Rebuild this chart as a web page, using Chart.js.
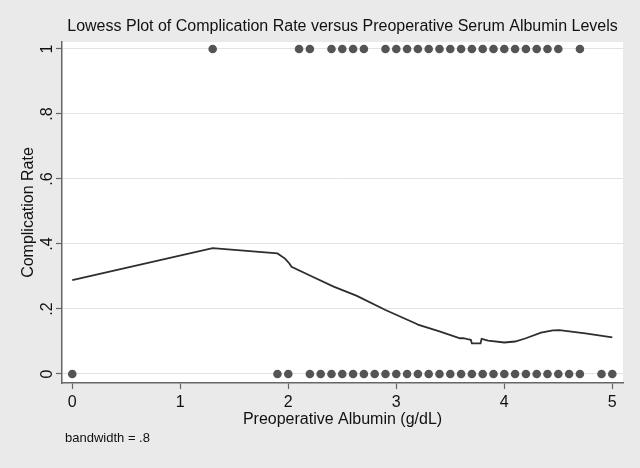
<!DOCTYPE html>
<html>
<head>
<meta charset="utf-8">
<script src="https://cdn.jsdelivr.net/npm/chart.js@4.4.0/dist/chart.umd.min.js"></script>
<style>
  html, body { margin: 0; padding: 0; background: #eaeaea; }
</style>
</head>
<body>
<canvas id="lowess-chart" width="640" height="468"></canvas>
<script>
// albumin values (g/dL) of patients with a complication (rate = 1)
var albuminWithComplication = [1.3, 2.1, 2.2, 2.4, 2.5, 2.6, 2.7, 2.9, 3.0, 3.1, 3.2, 3.3, 3.4, 3.5,
  3.6, 3.7, 3.8, 3.9, 4.0, 4.1, 4.2, 4.3, 4.4, 4.5, 4.7];
// albumin values of patients without a complication (rate = 0)
var albuminNoComplication = [0, 1.9, 2.0, 2.2, 2.3, 2.4, 2.5, 2.6, 2.7, 2.8, 2.9, 3.0, 3.1, 3.2, 3.3,
  3.4, 3.5, 3.6, 3.7, 3.8, 3.9, 4.0, 4.1, 4.2, 4.3, 4.4, 4.5, 4.6, 4.7, 4.9, 5.0];

// lowess smoother (bandwidth .8)
var lowessX = [0, 1.30, 1.90, 1.97, 2.01, 2.03, 2.20, 2.42, 2.63, 2.90, 3.19, 3.20, 3.40, 3.59,
  3.62, 3.66, 3.69, 3.70, 3.78, 3.79, 3.85, 4.00, 4.10, 4.20, 4.34, 4.45, 4.51, 4.75, 5.00];
var lowessY = [0.289, 0.387, 0.371, 0.355, 0.340, 0.330, 0.303, 0.269, 0.241, 0.197, 0.154, 0.152,
  0.131, 0.110, 0.110, 0.107, 0.105, 0.094, 0.094, 0.108, 0.103, 0.097, 0.100, 0.110, 0.127,
  0.134, 0.135, 0.125, 0.113];

var xTicks = [0, 1, 2, 3, 4, 5];
var yTicks = [0, 0.2, 0.4, 0.6, 0.8, 1];
var yTickLabels = ['0', '.2', '.4', '.6', '.8', '1'];

var fontFam = "'Liberation Sans', Arial, sans-serif";

// grey page, white plot region, title + note
var stataLook = {
  id: 'stataLook',
  beforeDraw: function (chart) {
    var c = chart.ctx, a = chart.chartArea;
    c.save();
    c.fillStyle = '#eaeaea';
    c.fillRect(0, 0, chart.width, chart.height);
    c.fillStyle = '#ffffff';
    c.fillRect(a.left, a.top, a.right - a.left, a.bottom - a.top);
    c.restore();
  },
  afterDraw: function (chart) {
    var c = chart.ctx, a = chart.chartArea;
    c.save();
    c.fillStyle = '#111';
    c.font = '16px ' + fontFam;
    c.textAlign = 'center';
    c.textBaseline = 'middle';
    c.fillText('Lowess Plot of Complication Rate versus Preoperative Serum Albumin Levels', (a.left + a.right) / 2, 27);
    c.font = '13px ' + fontFam;
    c.textAlign = 'left';
    c.fillText('bandwidth = .8', 65, 438);
    c.restore();
  }
};

var ctx = document.getElementById('lowess-chart').getContext('2d');
var myChart = new Chart(ctx, {
  type: 'scatter',
  data: {
    datasets: [{
      label: 'Complication',
      data: albuminWithComplication.map(function (v) { return { x: v, y: 1 }; }),
      backgroundColor: '#545454',
      borderWidth: 0,
      pointRadius: 4.3
    }, {
      label: 'No complication',
      data: albuminNoComplication.map(function (v) { return { x: v, y: 0 }; }),
      backgroundColor: '#545454',
      borderWidth: 0,
      pointRadius: 4.3
    }, {
      label: 'Lowess',
      data: lowessX.map(function (v, i) { return { x: v, y: lowessY[i] }; }),
      showLine: true,
      borderColor: '#2e2e2e',
      borderWidth: 1.8,
      pointRadius: 0,
      tension: 0
    }]
  },
  options: {
    responsive: false,
    animation: false,
    layout: { padding: { left: 0, top: 42, right: 17, bottom: 0 } },
    plugins: { legend: { display: false }, tooltip: { enabled: false } },
    scales: {
      x: {
        type: 'linear',
        min: -0.095,
        max: 5.099,
        afterBuildTicks: function (s) { s.ticks = xTicks.map(function (v) { return { value: v }; }); },
        afterFit: function (s) { s.height = 85; },
        ticks: { color: '#111', padding: 4, font: { family: fontFam, size: 16 } },
        grid: { drawOnChartArea: false, tickLength: 6, tickColor: '#666', tickWidth: 1.2 },
        border: { color: '#666', width: 1.5 },
        title: { display: true, text: 'Preoperative Albumin (g/dL)', color: '#111',
          font: { family: fontFam, size: 16 }, padding: { top: 0, bottom: 39 } }
      },
      y: {
        type: 'linear',
        min: -0.0277,
        max: 1.0215,
        afterBuildTicks: function (s) { s.ticks = yTicks.map(function (v) { return { value: v }; }); },
        afterFit: function (s) { s.width = 62; },
        ticks: {
          color: '#111',
          padding: 2,
          minRotation: 90,
          maxRotation: 90,
          crossAlign: 'center',
          font: { family: fontFam, size: 16 },
          callback: function (v, i) { return yTickLabels[i]; }
        },
        grid: { color: '#e3e3e3', tickLength: 6, tickColor: '#666', tickWidth: 1.2 },
        border: { color: '#666', width: 1.5 },
        title: { display: true, text: 'Complication Rate', color: '#111',
          font: { family: fontFam, size: 16 }, padding: { top: 19, bottom: 0 } }
      }
    }
  },
  plugins: [stataLook]
});
</script>
</body>
</html>
